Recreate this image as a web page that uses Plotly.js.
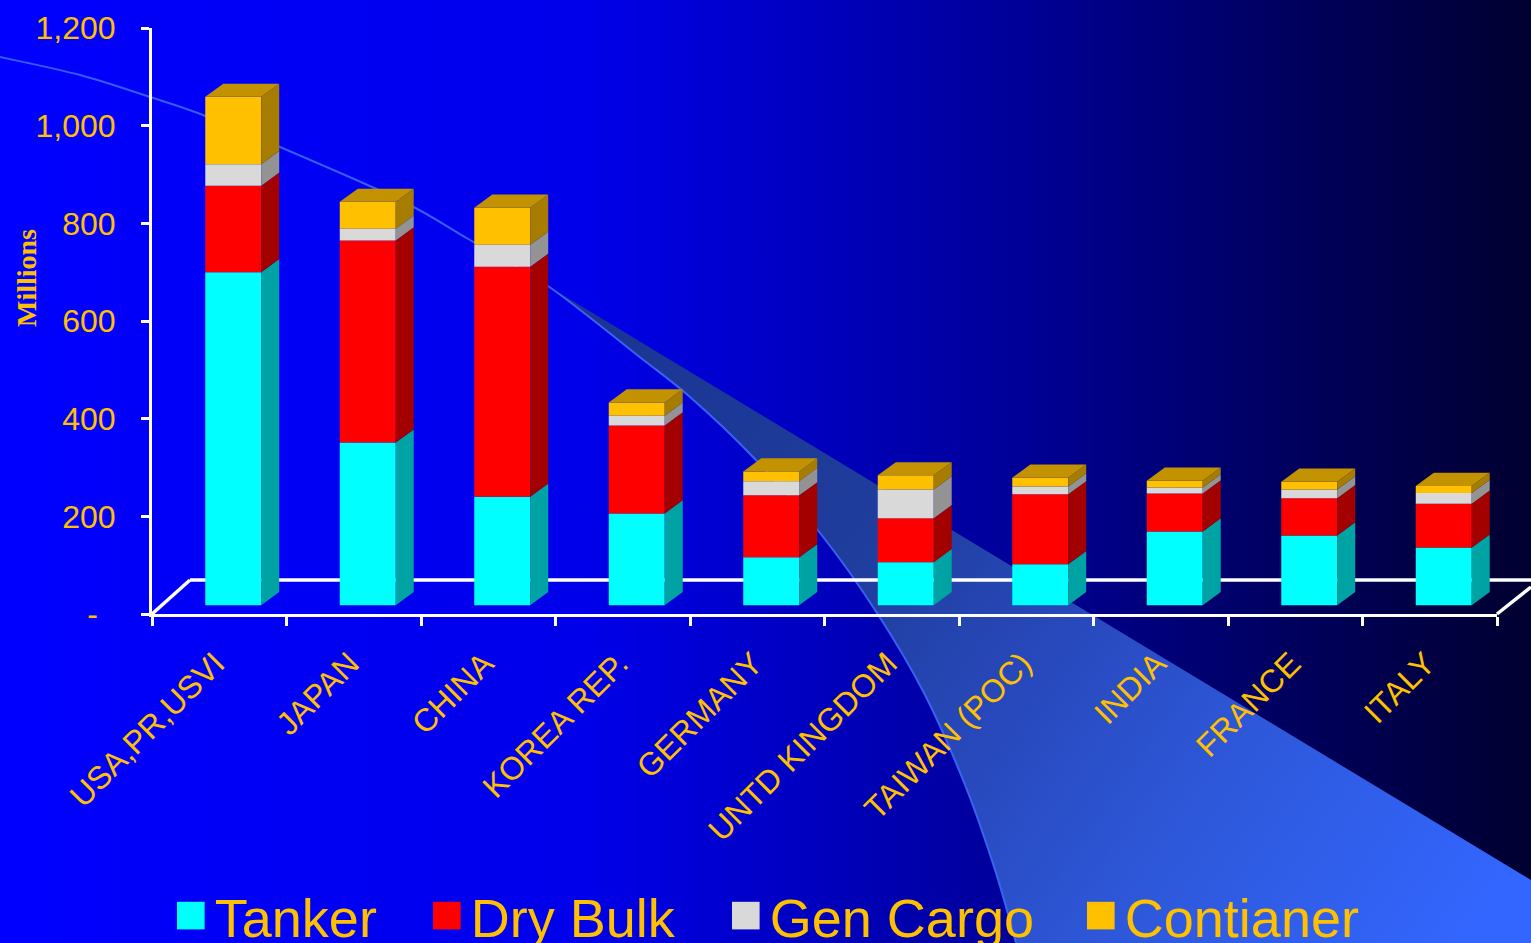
<!DOCTYPE html>
<html>
<head>
<meta charset="utf-8">
<script src="https://cdn.plot.ly/plotly-3.0.1.min.js"></script>
<style>
html,body{margin:0;padding:0;width:1531px;height:943px;overflow:hidden;background:#0000ff}
#bg{position:absolute;left:0;top:0}
#chart{position:absolute;left:0;top:0;width:1531px;height:943px}
</style>
</head>
<body>
<svg id="bg" width="1531" height="943" viewBox="0 0 1531 943">
<defs>
<linearGradient id="sky" x1="0" x2="1" y1="0" y2="0">
<stop offset="0" stop-color="#0000ff"/>
<stop offset="0.38" stop-color="#0000ea"/>
<stop offset="0.65" stop-color="#00009c"/>
<stop offset="0.85" stop-color="#00005c"/>
<stop offset="1" stop-color="#000030"/>
</linearGradient>
<linearGradient id="beam" gradientUnits="userSpaceOnUse" x1="550" y1="290" x2="1480" y2="930">
<stop offset="0" stop-color="#1a3392"/>
<stop offset="0.35" stop-color="#1f3d9c"/>
<stop offset="0.55" stop-color="#2849bd"/>
<stop offset="0.75" stop-color="#2e59dc"/>
<stop offset="1" stop-color="#3366ff"/>
</linearGradient>
</defs>
<rect width="1531" height="943" fill="url(#sky)"/>
<path id="wedge" fill="url(#beam)"/>
<path id="edge" fill="none" stroke="#3f6cff" stroke-opacity="0.85" stroke-width="2"/>
</svg>
<div id="chart"></div>
<script>
const categories = ['USA,PR,USVI','JAPAN','CHINA','KOREA REP.','GERMANY','UNTD KINGDOM','TAIWAN (POC)','INDIA','FRANCE','ITALY'];
const tanker    = [682,333,222,188, 98, 88, 84,151,143,118];
const dryBulk   = [177,414,471,180,127, 90,143, 78, 76, 90];
const genCargo  = [ 44, 24, 45, 20, 29, 59, 16, 12, 18, 22];
const container = [138, 55, 76, 27, 20, 29, 18, 14, 16, 14];
const seriesNames = ['Tanker','Dry Bulk','Gen Cargo','Contianer'];
const seriesValues = [tanker, dryBulk, genCargo, container];
const frontColors = ['#00ffff','#ff0000','#d9d9d9','#ffc000'];
const sideColors  = ['#00a3a3','#a30000','#939393','#a67d00'];
const topColor = '#c29200';
const yTicks = [0,200,400,600,800,1000,1200];
const yLabels = ['-\u00a0\u00a0','200','400','600','800','1,000','1,200'];

// decorative backdrop curve (page pixels)
const skyCurve = [[0,57],[80,75],[150,97],[203,115],[280,147],[400,200],[470,240]];
const beamCurve = [[548,286],[637,355],[690,397],[753,457],[820,533],[877,613],[925,695],[965,785],[995,870],[1016,943]];
function smooth(pts) {
  let d = 'M' + pts[0].join(',');
  for (let i = 0; i < pts.length - 1; i++) {
    const p0 = pts[Math.max(i - 1, 0)], p1 = pts[i], p2 = pts[i + 1], p3 = pts[Math.min(i + 2, pts.length - 1)];
    d += ' C' + (p1[0] + (p2[0] - p0[0]) / 6) + ',' + (p1[1] + (p2[1] - p0[1]) / 6) + ' ' +
         (p2[0] - (p3[0] - p1[0]) / 6) + ',' + (p2[1] - (p3[1] - p1[1]) / 6) + ' ' + p2.join(',');
  }
  return d;
}
document.getElementById('wedge').setAttribute('d', smooth(beamCurve) + ' L1531,943 L1531,880 Z');
document.getElementById('edge').setAttribute('d', smooth(skyCurve.concat(beamCurve)));

const gold = '#ffc000';
const baseLift = 18, depthX = 18/134.5, depthY = 27;
const barLeft = -0.104, barWidth = 0.416, labelShift = -0.03;
const idx = categories.map((_, i) => i);
const plotL = 152, plotT = 28, plotW = 1345, plotH = 586;
const px = v => (v - plotL) / plotW;
const py = v => (plotT + plotH - v) / plotH;

const cumulative = [];
let running = categories.map(() => baseLift);
seriesValues.forEach(vals => {
  cumulative.push(running.slice());
  running = running.map((r, i) => r + vals[i]);
});
const tops = running;

const traces = [];
seriesValues.forEach((vals, s) => {
  traces.push({
    type: 'bar', name: seriesNames[s], x: idx, y: vals, base: cumulative[s],
    width: barWidth, offset: barLeft,
    marker: {color: frontColors[s], line: {width: 0}},
    hoverinfo: 'y+name'
  });
});
seriesValues.forEach((vals, s) => {
  const xs = [], ys = [];
  idx.forEach(i => {
    const r = i + barLeft + barWidth, b = cumulative[s][i], t = b + vals[i];
    xs.push(r, r + depthX, r + depthX, r, r, null);
    ys.push(b, b + depthY, t + depthY, t, b, null);
  });
  traces.push({type: 'scatter', mode: 'lines', x: xs, y: ys, fill: 'toself', fillcolor: sideColors[s],
    line: {width: 0, color: sideColors[s]}, showlegend: false, hoverinfo: 'skip', cliponaxis: false});
});
(function () {
  const xs = [], ys = [];
  idx.forEach(i => {
    const l = i + barLeft, r = l + barWidth, t = tops[i];
    xs.push(l, l + depthX, r + depthX, r, l, null);
    ys.push(t, t + depthY, t + depthY, t, t, null);
  });
  traces.push({type: 'scatter', mode: 'lines', x: xs, y: ys, fill: 'toself', fillcolor: topColor,
    line: {width: 0, color: topColor}, showlegend: false, hoverinfo: 'skip', cliponaxis: false});
})();

const floorLine = (x0, y0, x1, y1) => ({
  type: 'line', xref: 'paper', yref: 'paper', layer: 'below',
  x0: px(x0), y0: py(y0), x1: px(x1), y1: py(y1),
  line: {color: '#ffffff', width: 3.5}
});

const layout = {
  width: 1531, height: 943,
  paper_bgcolor: 'rgba(0,0,0,0)', plot_bgcolor: 'rgba(0,0,0,0)',
  margin: {l: plotL, r: 1531 - plotL - plotW, t: plotT, b: 943 - plotT - plotH, pad: 0, autoexpand: false},
  barmode: 'overlay',
  showlegend: true,
  hovermode: 'closest',
  font: {family: '"Liberation Sans", Arial, sans-serif', color: gold},
  xaxis: {
    type: 'linear', range: [-0.5, 9.5], fixedrange: true,
    tickmode: 'array', tickvals: idx.map(i => i + labelShift), ticktext: categories, ticks: '',
    tickangle: -45, tickfont: {size: 32, color: gold},
    showgrid: false, zeroline: false, showline: true, linecolor: '#ffffff', linewidth: 3,
    ticklabelstandoff: 15,
    minor: {tickmode: 'array', tickvals: idx.concat([idx.length]).map(i => i - 0.5), ticks: 'outside', ticklen: 9, tickwidth: 3, tickcolor: '#ffffff', showgrid: false}
  },
  yaxis: {
    range: [0, 1200], fixedrange: true,
    tickmode: 'array', tickvals: yTicks, ticktext: yLabels,
    ticks: 'outside', ticklen: 8, tickwidth: 3, tickcolor: '#ffffff',
    tickfont: {size: 32, color: gold}, ticklabelstandoff: 19,
    showgrid: false, zeroline: false, showline: true, linecolor: '#ffffff', linewidth: 3
  },
  annotations: [{
    text: '<b>Millions</b>', textangle: -90, showarrow: false,
    xref: 'paper', yref: 'paper', x: px(26), y: py(278), xanchor: 'center', yanchor: 'middle',
    font: {family: '"Liberation Serif", serif', size: 28, color: gold}
  }],
  legend: {
    orientation: 'h', x: px(157), xanchor: 'left', y: py(916), yanchor: 'middle',
    font: {size: 54, color: gold}, bgcolor: 'rgba(0,0,0,0)', traceorder: 'normal', itemwidth: 38,
    itemclick: false, itemdoubleclick: false
  },
  shapes: [
    floorLine(152, 614, 190, 580),
    floorLine(190, 580, 1531, 580),
    floorLine(1497, 614, 1531, 587)
  ]
};

const swatchLefts = [177, 433, 732, 1087];
Plotly.newPlot('chart', traces, layout, {displayModeBar: false}).then(() => {
  document.querySelectorAll('#chart .legend .scrollbox').forEach(b => {
    b.removeAttribute('clip-path');
    b.style.clipPath = 'none';
  });
  document.querySelectorAll('#chart .legend .traces').forEach((g, k) => {
    const p = g.querySelector('.legendpoints path');
    if (!p) return;
    const t = p.getAttribute('transform') || '';
    p.setAttribute('transform', t + ' scale(2.3)');
    const dx = swatchLefts[k] - p.getBoundingClientRect().left;
    const m = /translate\(([-\d.]+)[ ,]*([-\d.]*)\)/.exec(g.getAttribute('transform') || '');
    const tx = m ? parseFloat(m[1]) : 0, ty = m && m[2] ? parseFloat(m[2]) : 0;
    g.setAttribute('transform', 'translate(' + (tx + dx) + ',' + ty + ')');
  });
});
</script>
</body>
</html>
